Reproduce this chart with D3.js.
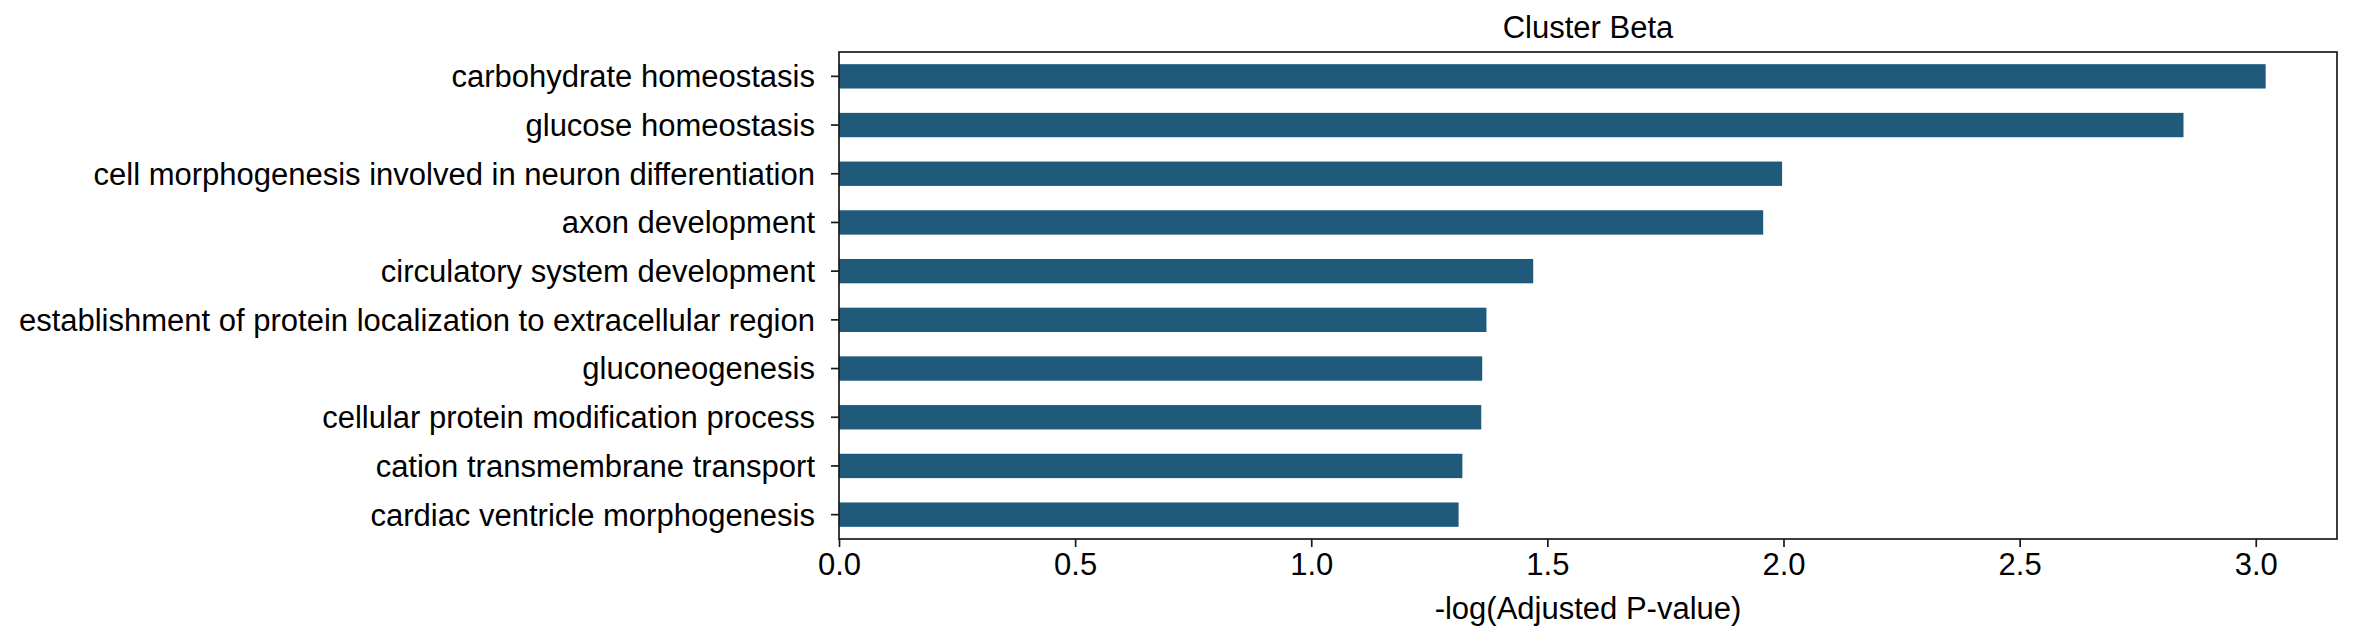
<!DOCTYPE html>
<html>
<head>
<meta charset="utf-8">
<script src="https://cdn.jsdelivr.net/npm/d3@7"></script>
<style>
  html, body { margin: 0; padding: 0; background: #ffffff; }
  svg { display: block; }
  text { font-family: "Liberation Sans", Arial, Helvetica, sans-serif; fill: #000; }
</style>
</head>
<body>
<svg id="chart" width="2353" height="637"></svg>
<script>
const categories = [
  "carbohydrate homeostasis",
  "glucose homeostasis",
  "cell morphogenesis involved in neuron differentiation",
  "axon development",
  "circulatory system development",
  "establishment of protein localization to extracellular region",
  "gluconeogenesis",
  "cellular protein modification process",
  "cation transmembrane transport",
  "cardiac ventricle morphogenesis"
];
const values = [3.021, 2.847, 1.997, 1.957, 1.470, 1.371, 1.362, 1.360, 1.320, 1.312];
const xTicks = [0.0, 0.5, 1.0, 1.5, 2.0, 2.5, 3.0];
const titleText = "Cluster Beta";
const xLabel = "-log(Adjusted P-value)";

(function () {
  const plotLeft = 839, plotRight = 2337, plotTop = 52, plotBottom = 539;
  const fontSize = 31;
  const barColor = "#1f5a7b";
  const axisColor = "#1a1a1a";

  const svg = d3.select("#chart");

  const x = d3.scaleLinear().domain([0, d3.max(values) * 1.05]).range([plotLeft, plotRight]);
  const y = d3.scaleBand().domain(categories).range([plotTop, plotBottom]).paddingInner(0.5).paddingOuter(0.25);

  // bars
  svg.append("g").selectAll("rect")
    .data(categories.map((c, i) => ({ c, v: values[i] })))
    .join("rect")
    .attr("x", x(0))
    .attr("y", d => y(d.c))
    .attr("width", d => x(d.v) - x(0))
    .attr("height", y.bandwidth())
    .attr("fill", barColor);

  // x axis
  const xAxis = d3.axisBottom(x).tickValues(xTicks).tickFormat(d3.format(".1f")).tickSizeOuter(0).tickSize(8).tickPadding(8);
  const gx = svg.append("g").attr("transform", `translate(0,${plotBottom})`).call(xAxis);
  gx.select(".domain").remove();
  gx.selectAll(".tick line").attr("stroke", axisColor).attr("stroke-width", 1.7);
  gx.selectAll(".tick text")
    .attr("font-size", fontSize)
    .attr("font-family", '"Liberation Sans", Arial, sans-serif')
    .attr("fill", "#000")
    .attr("dy", null)
    .attr("y", 36);

  // y axis
  const yAxis = d3.axisLeft(y).tickSizeOuter(0).tickSize(8).tickPadding(16);
  const gy = svg.append("g").attr("transform", `translate(${plotLeft},0)`).call(yAxis);
  gy.select(".domain").remove();
  gy.selectAll(".tick line").attr("stroke", axisColor).attr("stroke-width", 1.7);
  gy.selectAll(".tick text")
    .attr("font-size", fontSize)
    .attr("font-family", '"Liberation Sans", Arial, sans-serif')
    .attr("fill", "#000")
    .attr("dy", "0.35em")
    .attr("x", -24);

  // frame
  svg.append("rect")
    .attr("x", plotLeft).attr("y", plotTop)
    .attr("width", plotRight - plotLeft).attr("height", plotBottom - plotTop)
    .attr("fill", "none").attr("stroke", axisColor).attr("stroke-width", 1.7);

  // title
  svg.append("text")
    .attr("x", (plotLeft + plotRight) / 2).attr("y", 38)
    .attr("text-anchor", "middle")
    .attr("font-size", fontSize)
    .text(titleText);

  // x label
  svg.append("text")
    .attr("x", (plotLeft + plotRight) / 2).attr("y", 619)
    .attr("text-anchor", "middle")
    .attr("font-size", fontSize)
    .text(xLabel);
})();
</script>
</body>
</html>
